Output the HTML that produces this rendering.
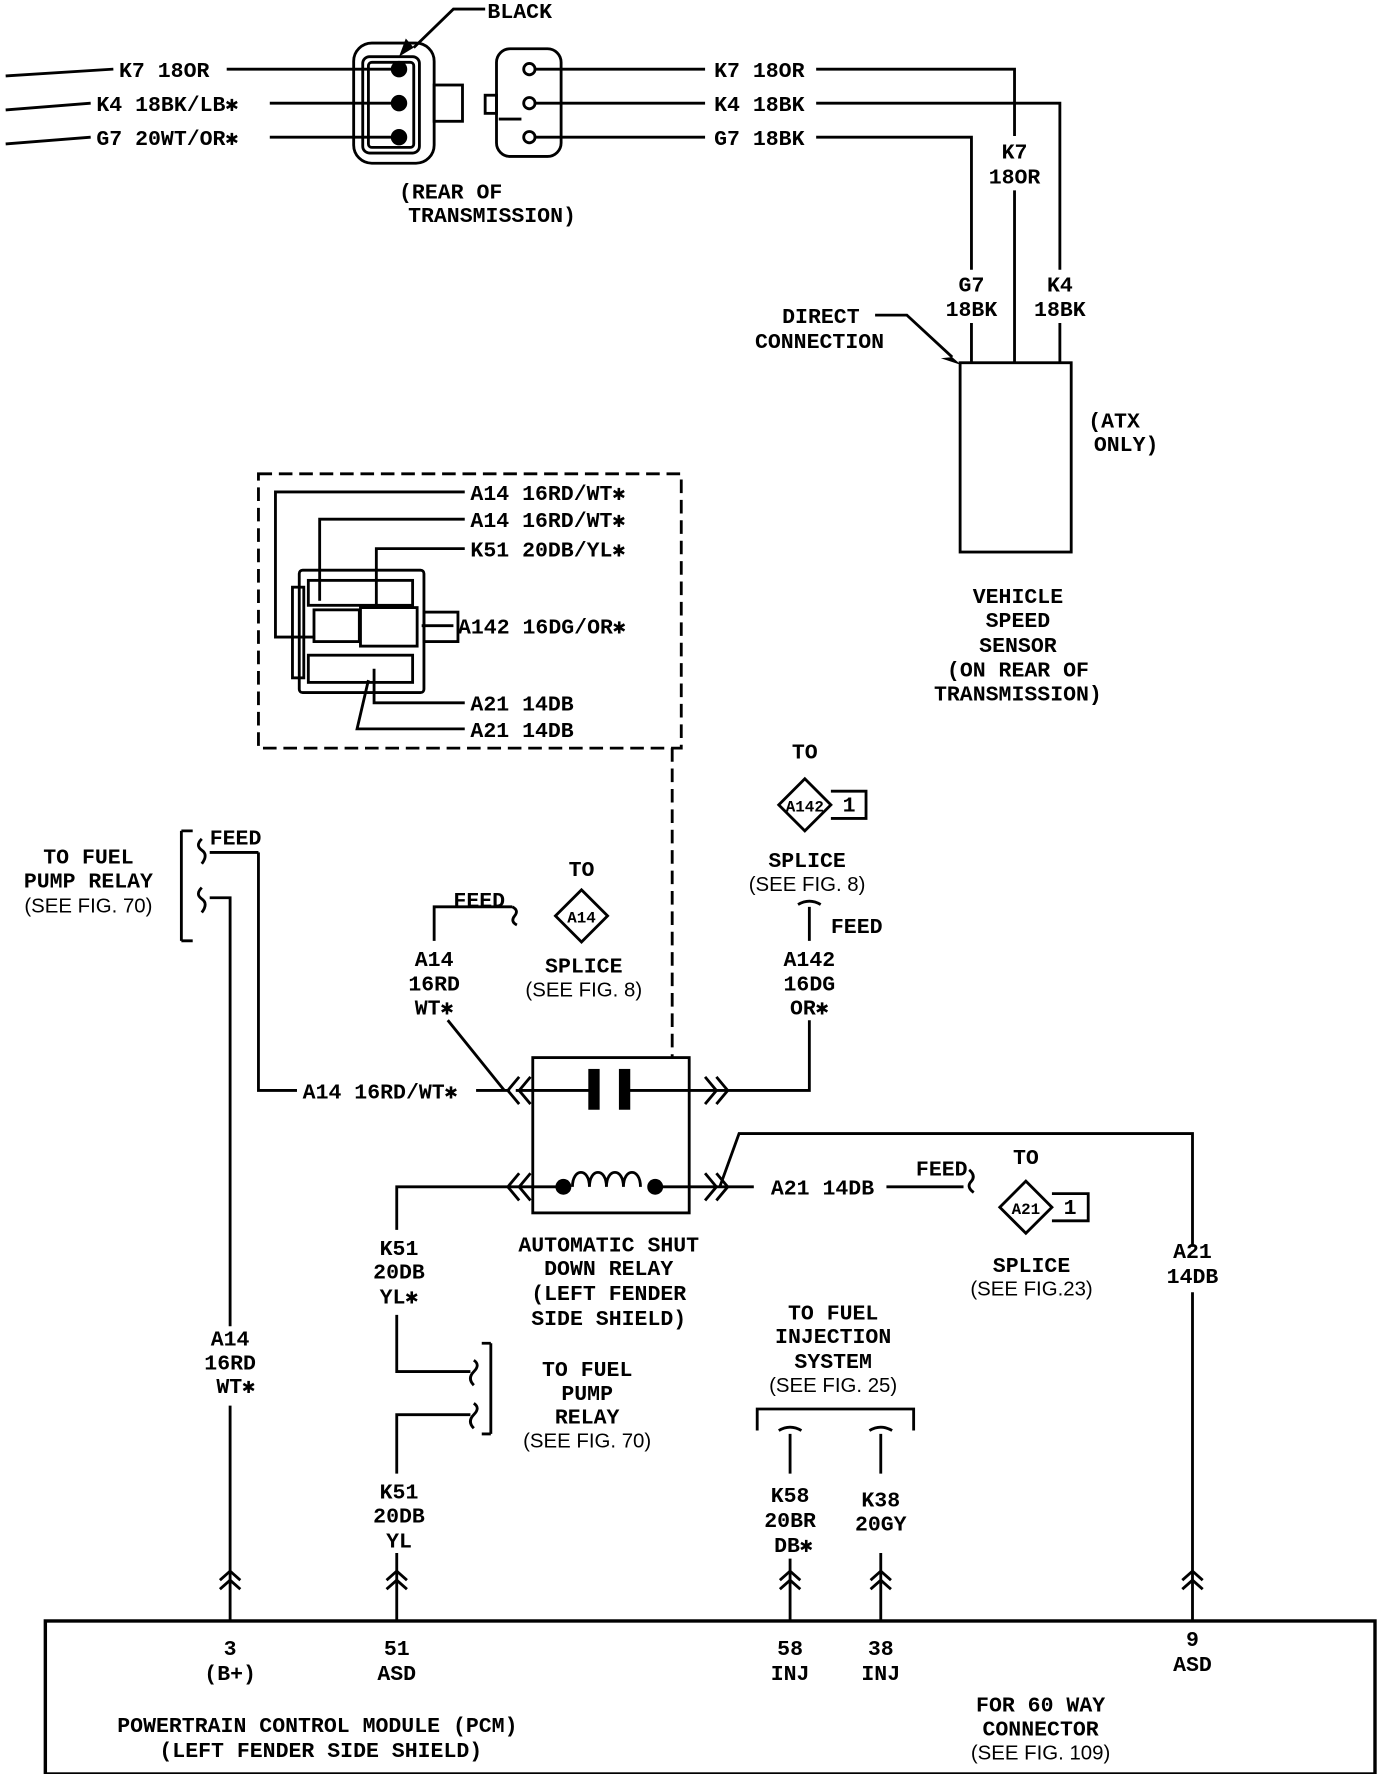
<!DOCTYPE html>
<html><head><meta charset="utf-8"><style>
html,body{margin:0;padding:0;background:#fff}
svg{display:block}
text{font-family:"Liberation Mono",monospace;font-weight:bold;font-size:19px;fill:#000}
.s{font-family:"Liberation Sans",sans-serif;font-weight:normal;font-size:18px}
.m{text-anchor:middle}
</style></head><body>
<svg width="1392" height="1774" viewBox="0 0 1228 1565" preserveAspectRatio="none" xmlns="http://www.w3.org/2000/svg">
<g fill="none" stroke="#000" stroke-width="2.5">
<path d="M5 67 L100 61 M200 61 L350 61 M5 97 L80 91 M238 91 L350 91 M5 127 L80 121 M238 121 L350 121"/>
<rect x="312" y="38" width="71" height="106" rx="16"/>
<rect x="320" y="50" width="50" height="85" rx="6"/>
<rect x="325" y="55" width="40" height="75" rx="3"/>
<rect x="383" y="75" width="25" height="32"/>
<circle cx="352" cy="61" r="6" fill="#000"/><circle cx="352" cy="91" r="6" fill="#000"/><circle cx="352" cy="121" r="6" fill="#000"/>
<path d="M428 8 L400 8 L365 42"/>
<rect x="438" y="43" width="57" height="95" rx="12"/>
<rect x="428" y="84" width="10" height="16"/>
<path d="M440 105 L460 105"/>
<circle cx="467" cy="61" r="5"/><circle cx="467" cy="91" r="5"/><circle cx="467" cy="121" r="5"/>
<path d="M472 61 L622 61 M472 91 L622 91 M472 121 L622 121"/>
<path d="M720 61 L895 61 L895 120 M895 168 L895 320"/>
<path d="M720 91 L935 91 L935 238 M935 285 L935 320"/>
<path d="M720 121 L857 121 L857 238 M857 285 L857 320"/>
<path d="M772 278 L800 278 L840 315"/>
<rect x="847" y="320" width="98" height="167"/>
<rect x="228" y="418" width="373" height="242" stroke-dasharray="12 6"/>
<path d="M593 660 L593 932" stroke-dasharray="12 6"/>
<path d="M410 434 L243 434 L243 562 L278 562 M410 458 L282 458 L282 530 M410 484 L332 484 L332 533 M410 620 L330 620 L330 590 M410 643 L315 643 L325 600 M400 552 L372 552"/>
<rect x="264" y="503" width="110" height="108" rx="3"/>
<rect x="258" y="518" width="10" height="80"/>
<rect x="272" y="512" width="92" height="22"/>
<rect x="277" y="538" width="40" height="28"/>
<rect x="318" y="536" width="50" height="34"/>
<rect x="272" y="578" width="92" height="24"/>
<rect x="374" y="540" width="30" height="26"/>
<rect x="470" y="933" width="138" height="137"/>
<path d="M228 752 L228 962 L262 962 M420 962 L450 962 M395 900 L445 962 M455 962 L520 962 M555 962 L635 962 L714 962 L714 900"/>
<path d="M458 950 L448 962 L458 974 M468 950 L458 962 L468 974 M622 950 L632 962 L622 974 M632 950 L642 962 L632 974"/>
<path d="M350 1085 L350 1047 L497 1047 M578 1047 L665 1047 M635 1047 L652 1000 L1052 1000 L1052 1100 M782 1047 L850 1047"/>
<path d="M458 1035 L448 1047 L458 1059 M468 1035 L458 1047 L468 1059 M622 1035 L632 1047 L622 1059 M632 1035 L642 1047 L632 1059"/>
<path d="M505 1047 C505 1030 520 1030 520 1047 C520 1030 535 1030 535 1047 C535 1030 550 1030 550 1047 C550 1030 565 1030 565 1047"/>
<path d="M383 830 L383 800 L452 800 M452 800 q6 3 2 8 q-4 5 2 8"/>
<path d="M714 830 L714 800 M704 798 q10 -6 20 0"/>
<path d="M160 733 L160 830 M160 733 L170 733 M160 830 L170 830"/>
<path d="M185 752 L228 752 M185 792 L203 792 L203 1170 M203 1240 L203 1430"/>
<path d="M178 740 q-6 6 0 10 q6 4 0 12 M178 783 q-6 6 0 10 q6 4 0 12"/>
<path d="M350 1160 L350 1210 L415 1210 M415 1248 L350 1248 L350 1300 M350 1370 L350 1430 M433 1185 L433 1265 M433 1185 L425 1185 M433 1265 L425 1265"/>
<path d="M418 1200 q6 4 0 10 q-6 6 0 12 M418 1238 q6 4 0 10 q-6 6 0 12"/>
<path d="M855 1032 q6 5 2 10 q-5 5 2 10 M1052 1140 L1052 1430"/>
<path d="M668 1262 L668 1243 L806 1243 L806 1262 M697 1265 L697 1300 M777 1265 L777 1300 M687 1262 q10 -6 20 0 M767 1262 q10 -6 20 0 M697 1375 L697 1430 M777 1370 L777 1430"/>
<path d="M194 1394 L203 1386 L212 1394 M194 1402 L203 1394 L212 1402 M341 1394 L350 1386 L359 1394 M341 1402 L350 1394 L359 1402 M688 1394 L697 1386 L706 1394 M688 1402 L697 1394 L706 1402 M768 1394 L777 1386 L786 1394 M768 1402 L777 1394 L786 1402 M1043 1394 L1052 1386 L1061 1394 M1043 1402 L1052 1394 L1061 1402"/>
<rect x="40" y="1430" width="1173" height="135" stroke-width="3"/>
<path d="M513 785 L536 808 L513 831 L490 808 Z"/>
<path d="M710 687 L733 710 L710 733 L687 710 Z M733 698 L764 698 L764 722 L733 722"/>
<path d="M905 1042 L928 1065 L905 1088 L882 1065 Z M928 1053 L960 1053 L960 1077 L928 1077"/>
</g>
<g fill="#000">
<path d="M365 42 L352 50 L358 34 Z"/>
<path d="M840 315 L848 322 L830 316 Z"/>
<rect x="519" y="943" width="10" height="36"/><rect x="546" y="943" width="10" height="36"/>
<circle cx="497" cy="1047" r="7"/><circle cx="578" cy="1047" r="7"/>
</g>
<text x="430" y="16">BLACK</text>
<text x="105" y="68">K7 18OR</text>
<text x="85" y="98">K4 18BK/LB✱</text>
<text x="85" y="128">G7 20WT/OR✱</text>
<text x="352" y="175">(REAR OF</text>
<text x="360" y="196">TRANSMISSION)</text>
<text x="630" y="68">K7 18OR</text>
<text x="630" y="98">K4 18BK</text>
<text x="630" y="128">G7 18BK</text>
<text class="m" x="895" y="140">K7</text><text class="m" x="895" y="162">18OR</text>
<text class="m" x="857" y="257">G7</text><text class="m" x="857" y="279">18BK</text>
<text class="m" x="935" y="257">K4</text><text class="m" x="935" y="279">18BK</text>
<text x="690" y="285">DIRECT</text><text x="666" y="307">CONNECTION</text>
<text x="960" y="377">(ATX</text><text x="965" y="398">ONLY)</text>
<text class="m" x="898" y="532">VEHICLE</text><text class="m" x="898" y="553">SPEED</text><text class="m" x="898" y="575">SENSOR</text><text class="m" x="898" y="597">(ON REAR OF</text><text class="m" x="898" y="618">TRANSMISSION)</text>
<text x="415" y="441">A14 16RD/WT✱</text>
<text x="415" y="465">A14 16RD/WT✱</text>
<text x="415" y="491">K51 20DB/YL✱</text>
<text x="404" y="559">A142 16DG/OR✱</text>
<text x="415" y="627">A21 14DB</text>
<text x="415" y="650">A21 14DB</text>
<text class="m" x="78" y="762">TO FUEL</text><text class="m" x="78" y="783">PUMP RELAY</text><text class="m s" x="78" y="805">(SEE FIG. 70)</text>
<text x="185" y="745">FEED</text>
<text x="400" y="800">FEED</text>
<text class="m" x="513" y="773">TO</text>
<text class="m" x="513" y="814" style="font-size:14px">A14</text>
<text class="m" x="515" y="858">SPLICE</text><text class="m s" x="515" y="879">(SEE FIG. 8)</text>
<text class="m" x="383" y="852">A14</text><text class="m" x="383" y="874">16RD</text><text class="m" x="383" y="895">WT✱</text>
<text class="m" x="710" y="669">TO</text>
<text class="m" x="710" y="716" style="font-size:14px">A142</text><text class="m" x="749" y="716">1</text>
<text class="m" x="712" y="765">SPLICE</text><text class="m s" x="712" y="786">(SEE FIG. 8)</text>
<text x="733" y="823">FEED</text>
<text class="m" x="714" y="852">A142</text><text class="m" x="714" y="874">16DG</text><text class="m" x="714" y="895">OR✱</text>
<text x="267" y="969">A14 16RD/WT✱</text>
<text x="680" y="1054">A21 14DB</text>
<text x="808" y="1037">FEED</text>
<text class="m" x="905" y="1027">TO</text>
<text class="m" x="905" y="1071" style="font-size:14px">A21</text><text class="m" x="944" y="1071">1</text>
<text class="m" x="910" y="1122">SPLICE</text><text class="m s" x="910" y="1143">(SEE FIG.23)</text>
<text class="m" x="1052" y="1110">A21</text><text class="m" x="1052" y="1132">14DB</text>
<text class="m" x="352" y="1107">K51</text><text class="m" x="352" y="1128">20DB</text><text class="m" x="352" y="1150">YL✱</text>
<text class="m" x="537" y="1104">AUTOMATIC SHUT</text><text class="m" x="537" y="1125">DOWN RELAY</text><text class="m" x="537" y="1147">(LEFT FENDER</text><text class="m" x="537" y="1169">SIDE SHIELD)</text>
<text class="m" x="518" y="1214">TO FUEL</text><text class="m" x="518" y="1235">PUMP</text><text class="m" x="518" y="1256">RELAY</text><text class="m s" x="518" y="1277">(SEE FIG. 70)</text>
<text class="m" x="735" y="1164">TO FUEL</text><text class="m" x="735" y="1185">INJECTION</text><text class="m" x="735" y="1207">SYSTEM</text><text class="m s" x="735" y="1228">(SEE FIG. 25)</text>
<text class="m" x="203" y="1187">A14</text><text class="m" x="203" y="1208">16RD</text><text class="m" x="208" y="1229">WT✱</text>
<text class="m" x="352" y="1322">K51</text><text class="m" x="352" y="1343">20DB</text><text class="m" x="352" y="1365">YL</text>
<text class="m" x="697" y="1325">K58</text><text class="m" x="697" y="1347">20BR</text><text class="m" x="700" y="1369">DB✱</text>
<text class="m" x="777" y="1329">K38</text><text class="m" x="777" y="1350">20GY</text>
<text class="m" x="203" y="1460">3</text><text class="m" x="203" y="1482">(B+)</text>
<text class="m" x="350" y="1460">51</text><text class="m" x="350" y="1482">ASD</text>
<text class="m" x="697" y="1460">58</text><text class="m" x="697" y="1482">INJ</text>
<text class="m" x="777" y="1460">38</text><text class="m" x="777" y="1482">INJ</text>
<text class="m" x="1052" y="1452">9</text><text class="m" x="1052" y="1474">ASD</text>
<text class="m" x="280" y="1528">POWERTRAIN CONTROL MODULE (PCM)</text>
<text class="m" x="283" y="1550">(LEFT FENDER SIDE SHIELD)</text>
<text class="m" x="918" y="1510">FOR 60 WAY</text><text class="m" x="918" y="1531">CONNECTOR</text><text class="m s" x="918" y="1552">(SEE FIG. 109)</text>
</svg>
</body></html>
